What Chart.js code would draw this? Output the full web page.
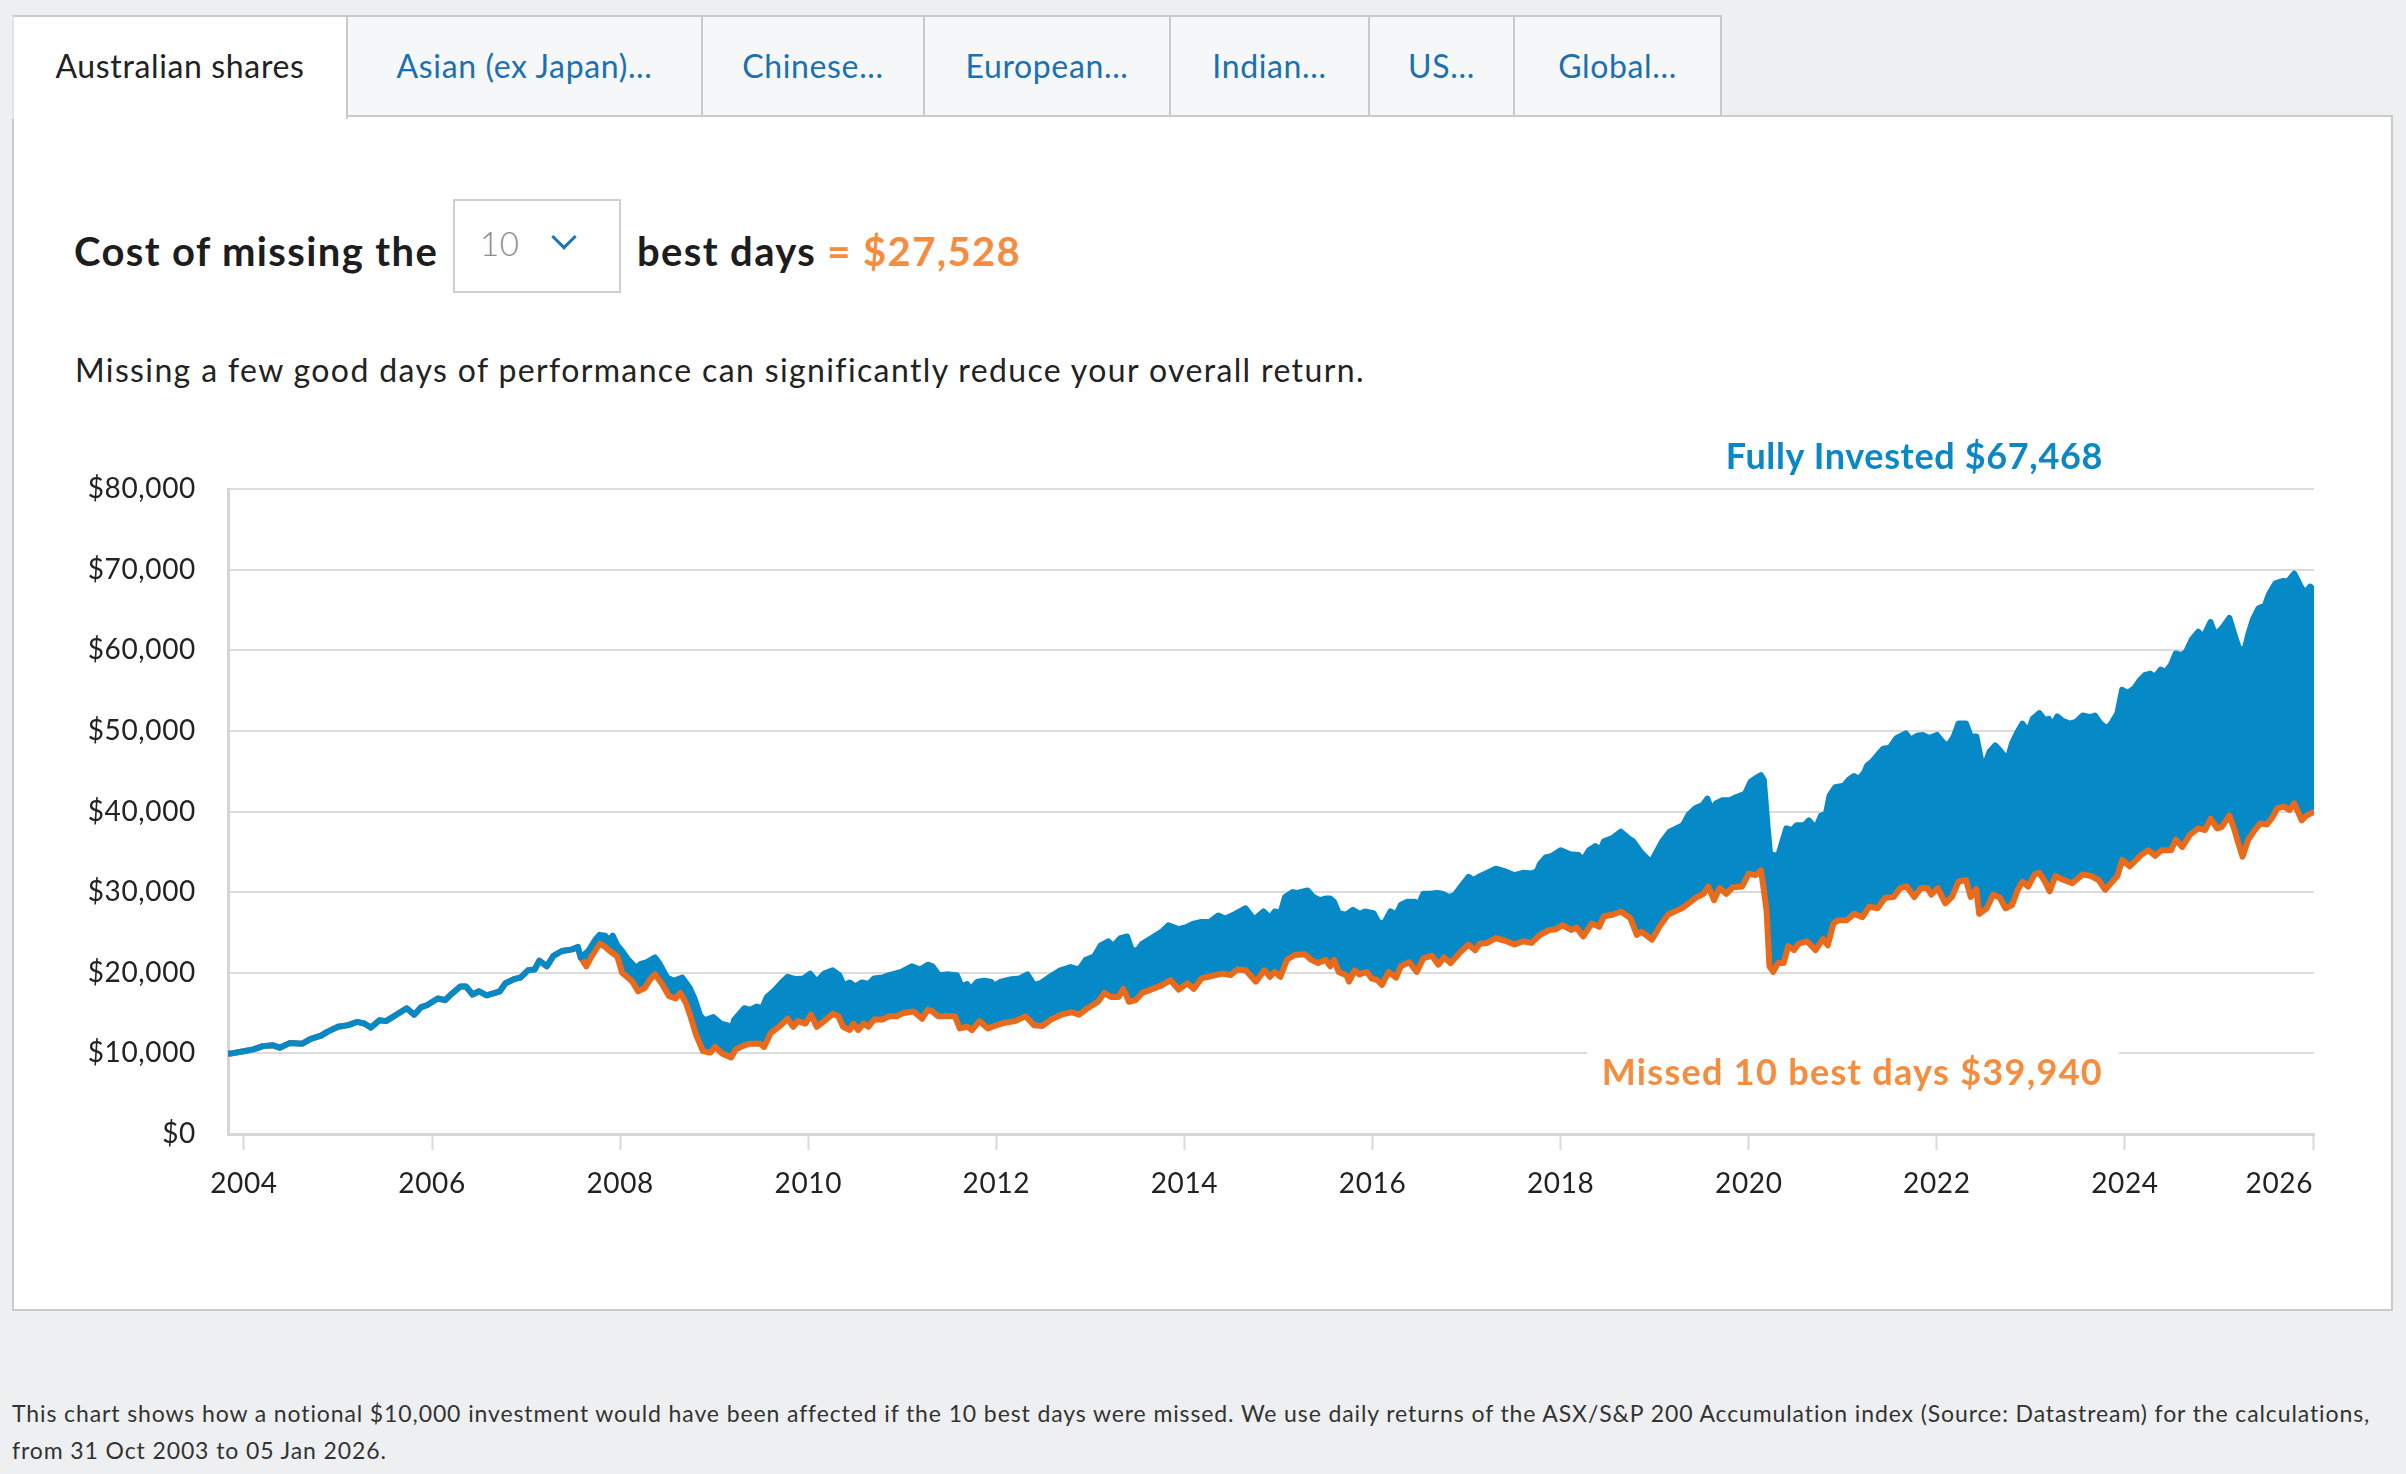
<!DOCTYPE html>
<html>
<head>
<meta charset="utf-8">
<script src="https://cdn.jsdelivr.net/npm/chart.js@4.4.1/dist/chart.umd.min.js"></script>
<style>
  html, body { margin: 0; padding: 0; }
  body { width: 2406px; height: 1474px; background: #eeeff1; position: relative; overflow: hidden;
         font-family: Lato, "Noto Sans", sans-serif; color: #222; letter-spacing: 0.64px; }
  .tab { position: absolute; top: 15px; height: 102px; box-sizing: border-box; border: 2px solid #c8cacf;
         border-left: none; background: #f6f7f8; color: #1a70b1; font-size: 32px; line-height: 98px;
         text-align: center; white-space: nowrap; }
  .tab.active { background: #fff; color: #222; height: 104px; border-bottom: none; border-left: 2px solid #e2e3e6; z-index: 2; }
  #panel { position: absolute; left: 12px; top: 115px; width: 2381px; height: 1196px; box-sizing: border-box;
           background: #fff; border: 2px solid #c8cacf; }
  .abs { position: absolute; white-space: nowrap; line-height: 1.2; }
  .head { font-size: 40px; font-weight: 700; color: #1d1d20; top: 227px; letter-spacing: 1.37px; }
  #select { position: absolute; left: 453px; top: 199px; width: 168px; height: 94px; box-sizing: border-box;
            border: 2px solid #cfcfcf; background: #fff; }
  #chev { position: absolute; left: 555px; top: 228px; width: 18px; height: 18px; box-sizing: border-box;
          border-right: 3px solid #1b74b8; border-bottom: 3px solid #1b74b8; transform: rotate(45deg); }
  #chartBox { position: absolute; left: 40px; top: 440px; width: 2340px; height: 800px; }
  .note { font-size: 36px; font-weight: 700; text-align: right; }
  #foot { position: absolute; left: 12px; top: 1395px; font-size: 23px; line-height: 37px; color: #333; white-space: nowrap; letter-spacing: 0.89px; }
</style>
</head>
<body>
<div id="panel"></div>
<div class="tab active" style="left:12px;width:336px">Australian shares</div>
<div class="tab" style="left:348px;width:355px">Asian (ex Japan)...</div>
<div class="tab" style="left:703px;width:222px">Chinese...</div>
<div class="tab" style="left:925px;width:246px">European...</div>
<div class="tab" style="left:1171px;width:199px">Indian...</div>
<div class="tab" style="left:1370px;width:145px">US...</div>
<div class="tab" style="left:1515px;width:207px">Global...</div>

<div class="abs head" style="left:74px">Cost of missing the</div>
<div id="select"></div>
<div class="abs" style="left:480px;top:224px;font-size:33px;color:#8c8c8c;font-weight:300">10</div>
<div id="chev"></div>
<div class="abs head" style="left:637px">best days <span style="color:#f68c3d">= $27,528</span></div>
<div class="abs" style="left:75px;top:351px;font-size:32px;color:#222;letter-spacing:1.37px">Missing a few good days of performance can significantly reduce your overall return.</div>

<div id="chartBox"><canvas id="chart"></canvas></div>

<div class="abs note" style="left:1500px;width:603px;top:434px;color:#0a87c6">Fully Invested $67,468</div>
<div class="abs note" style="left:1587px;width:516px;padding-right:16px;top:1050px;color:#f68c3d;background:#fff;letter-spacing:1.3px">Missed 10 best days $39,940</div>

<div id="foot">This chart shows how a notional $10,000 investment would have been affected if the 10 best days were missed. We use daily returns of the ASX/S&amp;P 200 Accumulation index (Source: Datastream) for the calculations,<br>from 31 Oct 2003 to 05 Jan 2026.</div>

<script>
// values, x in decimal years
const xTickYears = [2004, 2006, 2008, 2010, 2012, 2014, 2016, 2018, 2020, 2022, 2024, 2026];
const xMin = 2003.83;
const xMax = 2026.01;

// both series are the same until the first missed day (mid 2007)
const sharedYears = [2003.83, 2003.87, 2004.01, 2004.10, 2004.20, 2004.31, 2004.38, 2004.49, 2004.62, 2004.71,
  2004.82, 2004.89, 2005.00, 2005.11, 2005.20, 2005.28, 2005.35, 2005.44, 2005.51, 2005.62, 2005.73, 2005.81,
  2005.88, 2005.95, 2006.06, 2006.14, 2006.21, 2006.30, 2006.36, 2006.43, 2006.50, 2006.58, 2006.67, 2006.72,
  2006.78, 2006.87, 2006.94, 2007.02, 2007.09, 2007.14, 2007.22, 2007.29, 2007.38, 2007.49, 2007.55, 2007.58];
const sharedValues = [10000, 10000, 10300, 10500, 10900, 11000, 10700, 11300, 11200, 11800,
  12200, 12700, 13300, 13500, 13900, 13700, 13200, 14100, 14000, 14800, 15600, 14800,
  15700, 16000, 16800, 16600, 17400, 18300, 18300, 17300, 17700, 17200, 17500, 17700,
  18700, 19200, 19400, 20300, 20400, 21500, 20800, 22100, 22700, 22900, 23200, 21900];

const fullYears = [2007.66, 2007.73, 2007.78, 2007.84, 2007.88, 2007.92, 2007.97, 2008.02, 2008.08, 2008.17,
  2008.22, 2008.28, 2008.37, 2008.42, 2008.50, 2008.57, 2008.66, 2008.74, 2008.79, 2008.85, 2008.90, 2008.99,
  2009.07, 2009.14, 2009.18, 2009.21, 2009.32,
  2009.38, 2009.45, 2009.51, 2009.56, 2009.64, 2009.71, 2009.78, 2009.86, 2009.95,
  2010.02, 2010.09, 2010.17, 2010.26, 2010.33, 2010.38, 2010.44, 2010.50, 2010.57, 2010.64, 2010.70, 2010.79, 2010.86, 2010.92, 2010.99,
  2011.10, 2011.19, 2011.27, 2011.32, 2011.39, 2011.49, 2011.58, 2011.63, 2011.69, 2011.72, 2011.80, 2011.87, 2011.94, 2011.98,
  2012.05, 2012.16, 2012.25, 2012.33, 2012.40, 2012.47, 2012.57, 2012.68, 2012.79, 2012.88, 2012.95,
  2013.04, 2013.11, 2013.19, 2013.24, 2013.32, 2013.39, 2013.44, 2013.50, 2013.55, 2013.65, 2013.76, 2013.83, 2013.94,
  2014.03, 2014.10, 2014.18, 2014.27, 2014.36, 2014.43, 2014.54, 2014.65, 2014.74, 2014.84,
  2014.91, 2014.96,
  2015.02, 2015.07, 2015.15, 2015.20, 2015.31, 2015.37, 2015.44, 2015.50, 2015.55, 2015.59, 2015.64, 2015.72, 2015.79, 2015.86, 2015.92,
  2016.01, 2016.06, 2016.12, 2016.19, 2016.25, 2016.30, 2016.37, 2016.45, 2016.48, 2016.54, 2016.61, 2016.69, 2016.74, 2016.81, 2016.87, 2016.94,
  2017.02, 2017.07, 2017.13, 2017.20, 2017.31, 2017.40, 2017.51, 2017.60, 2017.69, 2017.75, 2017.78, 2017.84, 2017.91,
  2018.00, 2018.10, 2018.19, 2018.24, 2018.30, 2018.37, 2018.42, 2018.46, 2018.55, 2018.64, 2018.72, 2018.77, 2018.85, 2018.90, 2018.96,
  2019.01, 2019.08, 2019.16, 2019.23, 2019.30, 2019.36, 2019.43, 2019.51, 2019.56, 2019.61, 2019.65, 2019.72, 2019.80, 2019.87, 2019.96,
  2020.02, 2020.07, 2020.13, 2020.16, 2020.20, 2020.24, 2020.27, 2020.31, 2020.35,
  2020.40, 2020.46, 2020.51, 2020.59, 2020.64, 2020.71, 2020.77, 2020.82, 2020.86, 2020.92,
  2021.01, 2021.06, 2021.12, 2021.17, 2021.23, 2021.26, 2021.32, 2021.37, 2021.43, 2021.50, 2021.57, 2021.67, 2021.72, 2021.79, 2021.85, 2021.92,
  2022.00, 2022.07, 2022.12, 2022.18, 2022.23, 2022.31, 2022.36, 2022.42, 2022.47, 2022.51, 2022.56, 2022.62, 2022.67, 2022.75, 2022.80, 2022.86, 2022.91, 2022.97,
  2023.02, 2023.09, 2023.15, 2023.19, 2023.22, 2023.28, 2023.33, 2023.41, 2023.48, 2023.55, 2023.63, 2023.68, 2023.74, 2023.81, 2023.86, 2023.92, 2023.97,
  2024.03, 2024.10, 2024.16, 2024.21, 2024.27, 2024.32, 2024.38, 2024.43, 2024.49, 2024.54, 2024.60, 2024.65, 2024.71, 2024.78, 2024.83, 2024.91, 2024.96,
  2025.03, 2025.11, 2025.16, 2025.21, 2025.27, 2025.31, 2025.36, 2025.42, 2025.49, 2025.53, 2025.60, 2025.68, 2025.73, 2025.80, 2025.86, 2025.91, 2025.97,
  2026.01];
const fullValues = [22700, 24000, 24700, 24600, 24000, 24600, 23400, 22700, 21700, 20600,
  21100, 21300, 21900, 21100, 19400, 19000, 19400, 18100, 16800, 14700, 14100, 14500,
  13700, 13500, 12900, 14100, 15600,
  15400, 15800, 15600, 17000, 17800, 18700, 19500, 19200, 19300,
  19900, 18900, 19900, 20300, 19700, 18400, 18800, 18300, 18800, 18600, 19300, 19400, 19700, 19900, 20100,
  20800, 20400, 21000, 20800, 19700, 19800, 19700, 18300, 18600, 17900, 18900, 19000, 18900, 18400,
  18900, 19200, 19300, 19800, 18500, 18700, 19500, 20300, 20700, 20400, 21600,
  22000, 23400, 23900, 23300, 24300, 24500, 22800, 22800, 23600, 24300, 25100, 25900, 25400,
  25700, 26100, 26300, 26300, 27100, 26700, 27300, 28000, 26600, 27600,
  26800, 27600,
  27400, 29400, 30000, 29900, 30200, 29400, 29000, 29200, 29200, 28800, 27400, 27200, 27800, 27300, 27600,
  27400, 26300, 26100, 27600, 27200, 28400, 28800, 28800, 28200, 29800, 29800, 29900, 29800, 29400, 29600, 30700,
  31900, 31500, 31900, 32300, 32900, 32600, 32100, 32400, 32300, 32600, 33500, 34300, 34500,
  35200, 34700, 34600, 34000, 35200, 35700, 35200, 36300, 36700, 37500, 36700, 36300, 35000, 34400, 33700,
  34800, 36300, 37500, 37900, 38300, 39600, 40400, 40800, 41600, 40000, 41000, 41400, 41400, 41800, 42200,
  43700, 44100, 44500, 43900, 38100, 33000, 34600, 34400, 36000,
  37900, 37700, 38300, 38300, 38900, 37900, 39500, 39700, 42000, 43000,
  43200, 43900, 44400, 44000, 44900, 45700, 46300, 47000, 47800, 47900, 49100, 49700, 48900, 49400, 49500, 49100,
  49500, 48500, 48200, 49300, 50900, 50900, 49300, 49300, 46400, 45800, 47400, 48200, 47600, 46400, 48500, 49900, 50900, 49900,
  51500, 52200, 51300, 51500, 50500, 51800, 51300, 50900, 51100, 51900, 51700, 51900, 50900, 50300, 51000, 52200, 55100,
  54700, 55300, 56300, 56900, 57100, 56700, 57600, 57300, 58200, 59600, 59400, 59800, 61300, 62300, 61600, 63500, 61900,
  62700, 64000, 62100, 60300, 60000, 61900, 63800, 65200, 65600, 66900, 68300, 68600, 68500, 69500, 68100, 67100, 67900,
  67468];

const missedYears = [2007.64, 2007.69, 2007.78, 2007.84, 2007.89, 2007.97, 2008.02, 2008.08, 2008.13, 2008.19,
  2008.26, 2008.32, 2008.37, 2008.44, 2008.52, 2008.59, 2008.64, 2008.70, 2008.75, 2008.81, 2008.88, 2008.96,
  2009.01, 2009.08, 2009.18, 2009.23, 2009.32,
  2009.38, 2009.49, 2009.53, 2009.60, 2009.71, 2009.78, 2009.84, 2009.89, 2009.97,
  2010.03, 2010.09, 2010.17, 2010.26, 2010.32, 2010.37, 2010.44, 2010.48, 2010.53, 2010.59, 2010.64, 2010.70, 2010.79, 2010.86, 2010.94,
  2011.01, 2011.12, 2011.21, 2011.27, 2011.32, 2011.38, 2011.47, 2011.56, 2011.61, 2011.69, 2011.74, 2011.82, 2011.91, 2011.98,
  2012.09, 2012.20, 2012.31, 2012.40, 2012.49, 2012.58, 2012.69, 2012.80, 2012.88, 2012.97,
  2013.08, 2013.15, 2013.22, 2013.30, 2013.35, 2013.41, 2013.48, 2013.55, 2013.66, 2013.77, 2013.85, 2013.94,
  2014.03, 2014.10, 2014.18, 2014.29, 2014.40, 2014.49, 2014.56, 2014.65, 2014.76, 2014.85,
  2014.91, 2014.96,
  2015.02, 2015.09, 2015.17, 2015.28, 2015.35, 2015.42, 2015.50, 2015.55, 2015.59, 2015.64, 2015.72, 2015.75, 2015.81, 2015.86, 2015.94, 2015.99,
  2016.05, 2016.10, 2016.17, 2016.25, 2016.30, 2016.39, 2016.47, 2016.54, 2016.63, 2016.70, 2016.76, 2016.83, 2016.92,
  2017.02, 2017.09, 2017.14, 2017.22, 2017.31, 2017.40, 2017.51, 2017.60, 2017.69, 2017.78, 2017.88, 2017.95,
  2018.02, 2018.11, 2018.17, 2018.24, 2018.33, 2018.41, 2018.46, 2018.55, 2018.64, 2018.74, 2018.81, 2018.86, 2018.97,
  2019.05, 2019.14, 2019.21, 2019.29, 2019.36, 2019.45, 2019.52, 2019.57, 2019.63, 2019.69, 2019.76, 2019.83, 2019.93,
  2020.00, 2020.07, 2020.13, 2020.16, 2020.19, 2020.22, 2020.26, 2020.31, 2020.37,
  2020.42, 2020.48, 2020.53, 2020.62, 2020.71, 2020.79, 2020.84, 2020.90, 2020.95,
  2021.04, 2021.12, 2021.21, 2021.28, 2021.37, 2021.45, 2021.54, 2021.61, 2021.68, 2021.76, 2021.83, 2021.90, 2021.94,
  2022.01, 2022.09, 2022.16, 2022.23, 2022.31, 2022.36, 2022.42, 2022.45, 2022.53, 2022.60, 2022.67, 2022.73, 2022.80, 2022.86, 2022.91, 2022.97,
  2023.04, 2023.09, 2023.15, 2023.20, 2023.26, 2023.35, 2023.44, 2023.55, 2023.64, 2023.72, 2023.79, 2023.85, 2023.92, 2023.97,
  2024.05, 2024.12, 2024.17, 2024.25, 2024.32, 2024.39, 2024.49, 2024.54, 2024.61, 2024.69, 2024.78, 2024.85, 2024.91, 2024.98,
  2025.03, 2025.11, 2025.16, 2025.20, 2025.25, 2025.31, 2025.38, 2025.44, 2025.51, 2025.57, 2025.62, 2025.69, 2025.75, 2025.80, 2025.88, 2025.93,
  2026.01];
const missedValues = [20800, 21900, 23600, 23200, 22700, 22000, 20000, 19400, 18900, 17700,
  18100, 19200, 19800, 18700, 17100, 16800, 17500, 16200, 14500, 12200, 10300, 10100,
  10800, 10000, 9500, 10500, 11000,
  11200, 11200, 10800, 12500, 13500, 14300, 13300, 14000, 13700,
  14800, 13300, 14000, 14900, 14600, 13300, 12900, 13700, 12900, 13700, 13300, 14200, 14200, 14600, 14600,
  15000, 15200, 14300, 15400, 15200, 14600, 14600, 14600, 13100, 13300, 12900, 14000, 13100, 13400,
  13800, 14000, 14600, 13500, 13400, 14200, 14800, 15100, 14800, 15600,
  16400, 17500, 17000, 17000, 18000, 16400, 16600, 17500, 18000, 18500, 19100, 17900,
  18700, 18000, 19300, 19600, 19900, 19700, 20400, 20300, 18900, 20300,
  19500, 20100,
  19500, 21600, 22200, 22300, 21600, 21200, 21600, 20800, 21600, 20100, 19700, 18900, 20300, 19800, 20100, 19300,
  19100, 18500, 20100, 19400, 20800, 21300, 20100, 21800, 22100, 21000, 21900, 21200, 22400,
  23500, 22800, 23600, 23700, 24300, 24000, 23500, 23900, 23700, 24700, 25300, 25400,
  25900, 25300, 25600, 24500, 26100, 25700, 27000, 27200, 27600, 26800, 24700, 25100, 24100,
  25700, 27200, 27600, 28000, 28600, 29400, 29800, 30700, 29000, 30500, 29800, 30600, 30700,
  32300, 32100, 32700, 30300, 27600, 20800, 20100, 21200, 21200,
  23300, 22800, 23600, 23900, 22800, 24200, 23400, 26100, 26500,
  26500, 27300, 26900, 28200, 28000, 29300, 29400, 30500, 30700, 29400, 30500, 30500, 29700,
  30500, 28600, 29400, 31300, 31500, 29400, 30400, 27300, 28000, 29700, 29300, 28000, 28400, 30300, 31300, 30700,
  32200, 32400, 31300, 30100, 32000, 31500, 31100, 32200, 32000, 31500, 30300, 31100, 32000, 34000,
  33200, 34000, 34600, 35200, 34500, 35200, 35200, 36500, 35600, 37100, 37900, 37700, 39100, 37900,
  38100, 39500, 37900, 36300, 34400, 36500, 37700, 38500, 38400, 39300, 40400, 40600, 40200, 41000, 38900, 39500,
  39940];

const BLUE = '#068ac7';
const ORANGE = '#ea6a1c';

function toPoints(years, values) {
  return years.map((x, i) => ({ x: x, y: values[i] }));
}

const fullPoints = toPoints(sharedYears.concat(fullYears), sharedValues.concat(fullValues));
const missedPoints = toPoints(sharedYears.concat(missedYears), sharedValues.concat(missedValues));

Chart.defaults.font.family = 'Lato, "Noto Sans", sans-serif';
Chart.defaults.color = '#222';

new Chart(document.getElementById('chart'), {
  type: 'line',
  data: {
    datasets: [{
      label: 'Fully Invested',
      data: fullPoints,
      borderColor: BLUE,
      backgroundColor: BLUE,
      borderWidth: 6,
      fill: 1,
      pointRadius: 0,
      borderJoinStyle: 'round',
      borderCapStyle: 'round'
    }, {
      label: 'Missed 10 best days',
      data: missedPoints,
      borderColor: ORANGE,
      borderWidth: 6,
      fill: false,
      pointRadius: 0,
      borderJoinStyle: 'round',
      borderCapStyle: 'round'
    }]
  },
  options: {
    responsive: true,
    maintainAspectRatio: false,
    animation: false,
    events: [],
    layout: { padding: { top: 49, right: 66, left: 0, bottom: 0 } },
    plugins: {
      legend: { display: false },
      tooltip: { enabled: false },
      filler: { drawTime: 'beforeDatasetsDraw' }
    },
    scales: {
      x: {
        type: 'linear',
        min: xMin,
        max: xMax,
        afterBuildTicks: function (scale) {
          // blank tick at the left edge so that 'inner' only right-aligns the last label
          scale.ticks = [{ value: xMin }].concat(xTickYears.map(v => ({ value: v })));
        },
        afterFit: function (scale) { scale.height = 106; },
        ticks: {
          align: 'inner',
          autoSkip: false,
          maxRotation: 0,
          padding: 17,
          font: { size: 28 },
          color: '#222',
          callback: function (value) { return xTickYears.includes(value) ? String(value) : ''; }
        },
        grid: {
          drawOnChartArea: false,
          drawTicks: true,
          tickLength: 16,
          tickWidth: 2,
          tickColor: function (ctx) { return ctx.index === 0 ? 'rgba(0,0,0,0)' : '#d9d9d9'; }
        },
        border: { display: true, color: '#d6d6d6', width: 3 }
      },
      y: {
        min: 0,
        max: 80000,
        afterFit: function (scale) { scale.width = 188; },
        ticks: {
          stepSize: 10000,
          padding: 32,
          font: { size: 28 },
          color: '#222',
          callback: function (value) { return '$' + value.toLocaleString('en-US'); }
        },
        grid: { color: '#dcdcdc', lineWidth: 2, drawTicks: false },
        border: { display: true, color: '#d6d6d6', width: 3 }
      }
    }
  }
});
</script>
</body>
</html>
